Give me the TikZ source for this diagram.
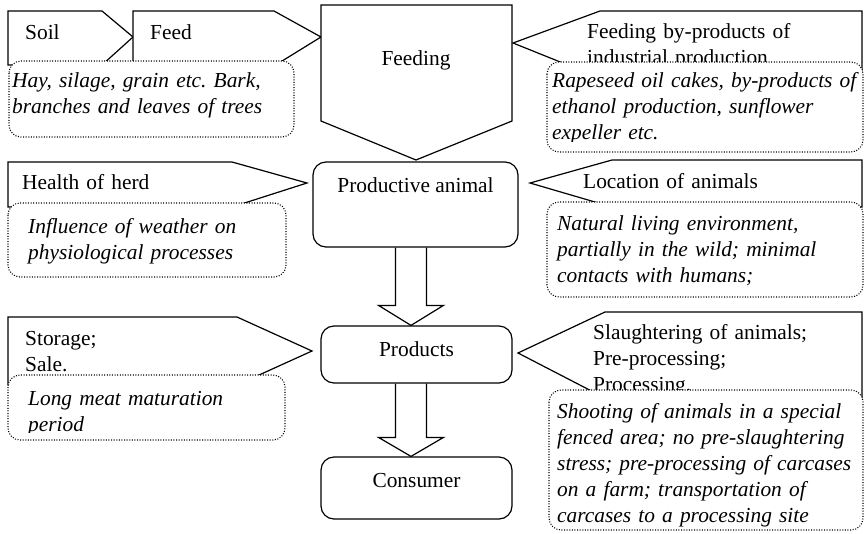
\documentclass[tikz,border=0pt]{standalone}
\usepackage{fontspec}
\setmainfont{Liberation Serif}
\usetikzlibrary{calc}
\frenchspacing
\begin{document}
\begin{tikzpicture}[x=1pt,y=-1pt,
  outline/.style={draw=black,line width=1.2pt,line join=miter},
  tagshape/.style={outline,fill=white},
  notebox/.style={draw=black,line width=1.1pt,dash pattern=on 1pt off 1.6pt,fill=white,rounded corners=12pt},
  stagebox/.style={outline,fill=white,rounded corners=13pt,inner sep=0pt},
  lbl/.style={inner sep=0pt,anchor=base west,text width=330pt,align=left,
              font=\fontsize{21.4}{26}\selectfont},
  note/.style={lbl,font=\fontsize{21.4}{26}\selectfont\itshape},
  ctr/.style={inner sep=0pt,anchor=base,font=\fontsize{21.4}{26}\selectfont}
]
\useasboundingbox (0,0) rectangle (864,533);

% ---------- top row: inputs to feeding ----------
\draw[tagshape] (8,11) -- (102,11) -- (133,37) -- (102,65) -- (8,65) -- cycle;
\node[lbl] (soilT) at (25,39) {Soil};
\draw[tagshape] (133,11) -- (274,11) -- (321,37) -- (274,66) -- (133,66) -- cycle;
\node[lbl] (feedT) at (150,39) {Feed};
\draw[tagshape] (321,5) -- (512,5) -- (512,121) -- (416,160) -- (321,121) -- cycle;
\node[ctr] (feedingT) at (416,65) {Feeding};
\draw[tagshape] (513,43) -- (600,11) -- (862,11) -- (862,78) -- (600,78) -- cycle;
\node[lbl] (byT) at (587,38) {Feeding by-products of\\industrial production};

\draw[notebox] (9,61) rectangle (294,137);
\node[note] (hayT) at (12,87) {Hay, silage, grain etc. Bark,\\branches and leaves of trees};
\draw[notebox] (547,62) rectangle (863,152);
\begin{scope}
  \clip (547,62) rectangle (863,141);
  \node[note] (rapeT) at (552,87) {Rapeseed oil cakes, by-products of\\ethanol production, sunflower\\expeller etc.};
\end{scope}

% ---------- middle row: productive animal ----------
\draw[tagshape] (8,162) -- (232,162) -- (307,183) -- (232,207) -- (8,207) -- cycle;
\node[lbl] (healthT) at (22,189) {Health of herd};
\draw[tagshape] (530,183) -- (612,160) -- (862,160) -- (862,207) -- (612,207) -- cycle;
\node[lbl] (locT) at (583,188) {Location of animals};

\draw[notebox] (8,203) rectangle (286,277);
\node[note] (inflT) at (28,233) {Influence of weather on\\physiological processes};
\draw[notebox] (547,202) rectangle (863,297);
\node[note] (natT) at (557,230) {Natural living environment,\\partially in the wild; minimal\\contacts with humans;};

\node[stagebox,minimum width=205pt,minimum height=85pt] (pa) at (415.5,204.5) {};
\node[ctr] (paT) at ($(pa.north)+(0,31)$) {Productive animal};

% ---------- lower row: products ----------
\draw[tagshape] (8,317) -- (237,317) -- (312,351) -- (237,385) -- (8,385) -- cycle;
\node[lbl] (storT) at (25,345) {Storage;\\Sale.};
\draw[tagshape] (518,353) -- (605,312) -- (862,312) -- (862,398) -- (605,398) -- cycle;
\node[lbl] (slauT) at (593,339) {Slaughtering of animals;\\Pre-processing;\\Processing.};

\draw[notebox] (8,375) rectangle (285,440);
\begin{scope}
  \clip (8,375) rectangle (285,432);
  \node[note] (longT) at (28,405) {Long meat maturation\\period};
\end{scope}
\draw[notebox] (549,390) rectangle (863,530);
\node[note] (shootT) at (557,418) {Shooting of animals in a special\\fenced area; no pre-slaughtering\\stress; pre-processing of carcases\\on a farm; transportation of\\carcases to a processing site};

\node[stagebox,minimum width=191pt,minimum height=57pt] (prod) at (416.5,354.5) {};
\node[ctr] (prodT) at ($(prod.north)+(0,31)$) {Products};
\node[stagebox,minimum width=191pt,minimum height=62pt] (cons) at (416.5,488) {};
\node[ctr] (consT) at ($(cons.north)+(0,31)$) {Consumer};

% ---------- block arrows between stages ----------
\draw[outline] let \p1=(pa.south), \p2=(prod.north), \n1={\x2-5.5pt} in
  (\n1-15.5pt,\y1) -- (\n1-15.5pt,\y2+20pt) -- (\n1-32.5pt,\y2+20pt) -- (\n1,\y2)
  -- (\n1+32.5pt,\y2+20pt) -- (\n1+15.5pt,\y2+20pt) -- (\n1+15.5pt,\y1);
\draw[outline] let \p1=(prod.south), \p2=(cons.north), \n1={\x2-5.5pt} in
  (\n1-15.5pt,\y1) -- (\n1-15.5pt,\y2+19pt) -- (\n1-32.5pt,\y2+19pt) -- (\n1,\y2)
  -- (\n1+32.5pt,\y2+19pt) -- (\n1+15.5pt,\y2+19pt) -- (\n1+15.5pt,\y1);
\end{tikzpicture}
\end{document}
